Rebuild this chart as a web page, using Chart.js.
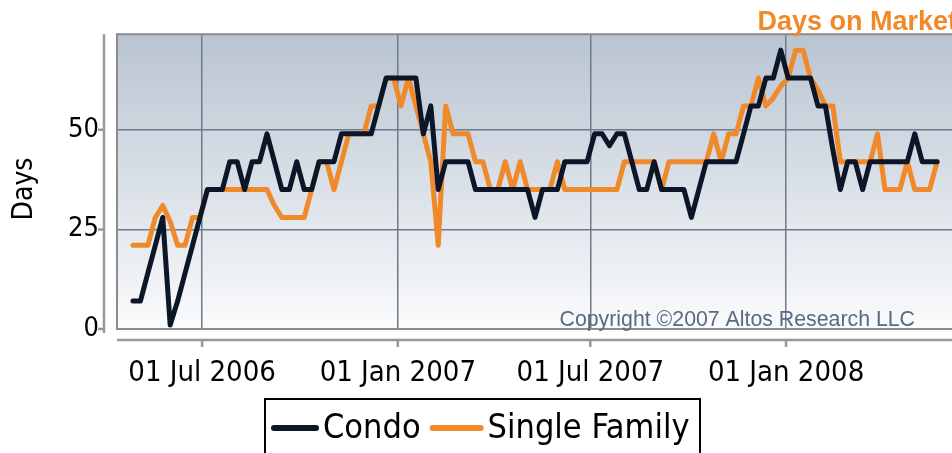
<!DOCTYPE html>
<html>
<head>
<meta charset="utf-8">
<script src="https://cdn.jsdelivr.net/npm/chart.js@4.4.0/dist/chart.umd.min.js"></script>
<style>
  html, body { margin: 0; padding: 0; background: #fff; overflow: hidden; }
</style>
</head>
<body>
<canvas id="myChart" width="952" height="453"></canvas>
<script>
// weekly data points
const weeks = [
  "2006-04-27", "2006-05-04", "2006-05-11", "2006-05-18", "2006-05-25", "2006-06-01", "2006-06-08", "2006-06-15",
  "2006-06-22", "2006-06-29", "2006-07-06", "2006-07-13", "2006-07-20", "2006-07-27", "2006-08-03", "2006-08-10",
  "2006-08-17", "2006-08-24", "2006-08-31", "2006-09-07", "2006-09-14", "2006-09-21", "2006-09-28", "2006-10-05",
  "2006-10-12", "2006-10-19", "2006-10-26", "2006-11-02", "2006-11-09", "2006-11-16", "2006-11-23", "2006-11-30",
  "2006-12-07", "2006-12-14", "2006-12-21", "2006-12-28", "2007-01-04", "2007-01-11", "2007-01-18", "2007-01-25",
  "2007-02-01", "2007-02-08", "2007-02-15", "2007-02-22", "2007-03-01", "2007-03-08", "2007-03-15", "2007-03-22",
  "2007-03-29", "2007-04-05", "2007-04-12", "2007-04-19", "2007-04-26", "2007-05-03", "2007-05-10", "2007-05-17",
  "2007-05-24", "2007-05-31", "2007-06-07", "2007-06-14", "2007-06-21", "2007-06-28", "2007-07-05", "2007-07-12",
  "2007-07-19", "2007-07-26", "2007-08-02", "2007-08-09", "2007-08-16", "2007-08-23", "2007-08-30", "2007-09-06",
  "2007-09-13", "2007-09-20", "2007-09-27", "2007-10-04", "2007-10-11", "2007-10-18", "2007-10-25", "2007-11-01",
  "2007-11-08", "2007-11-15", "2007-11-22", "2007-11-29", "2007-12-06", "2007-12-13", "2007-12-20", "2007-12-27",
  "2008-01-03", "2008-01-10", "2008-01-17", "2008-01-24", "2008-01-31", "2008-02-07", "2008-02-14", "2008-02-21",
  "2008-02-28", "2008-03-06", "2008-03-13", "2008-03-20", "2008-03-27", "2008-04-03", "2008-04-10", "2008-04-17",
  "2008-04-24", "2008-05-01", "2008-05-08", "2008-05-15", "2008-05-22"
];

const condo = [
  7, 7, 14, 21, 28, 1, 7, 14, 21, 28, 35, 35, 35, 42, 42, 35,
  42, 42, 49, 42, 35, 35, 42, 35, 35, 42, 42, 42, 49, 49, 49, 49,
  49, 56, 63, 63, 63, 63, 63, 49, 56, 35, 42, 42, 42, 42, 35, 35,
  35, 35, 35, 35, 35, 35, 28, 35, 35, 35, 42, 42, 42, 42, 49, 49,
  46, 49, 49, 42, 35, 35, 42, 35, 35, 35, 35, 28, 35, 42, 42, 42,
  42, 42, 49, 56, 56, 63, 63, 70, 63, 63, 63, 63, 56, 56, 45, 35,
  42, 42, 35, 42, 42, 42, 42, 42, 42, 49, 42, 42, 42
];

const singleFamily = [
  21, 21, 21, 28, 31, 27, 21, 21, 28, 28, 35, 35, 35, 35, 35, 35,
  35, 35, 35, 31, 28, 28, 28, 28, 35, 42, 42, 35, 42, 49, 49, 49,
  56, 56, 63, 63, 56, 63, 56, 49, 42, 21, 56, 49, 49, 49, 42, 42,
  35, 35, 42, 35, 42, 35, 35, 35, 35, 42, 35, 35, 35, 35, 35, 35,
  35, 35, 42, 42, 42, 42, 42, 35, 42, 42, 42, 42, 42, 42, 49, 42,
  49, 49, 56, 56, 63, 56, 58, 61, 63, 70, 70, 63, 60, 56, 56, 42,
  42, 42, 42, 42, 49, 35, 35, 35, 42, 35, 35, 35, 42
];

const tickDates = ["2006-07-01", "2007-01-01", "2007-07-01", "2008-01-01"];
const tickLabels = ["01 Jul 2006", "01 Jan 2007", "01 Jul 2007", "01 Jan 2008"];
const yTicks = [0, 25, 50];
const xStart = "2006-04-12";
const xEnd = "2008-06-05";

const toDay = (s) => Date.UTC(+s.slice(0, 4), +s.slice(5, 7) - 1, +s.slice(8, 10)) / 86400000;
const FONT = "'DejaVu Sans Condensed', 'DejaVu Sans', sans-serif";

// background, frame, separate axes, texts and legend box
const decor = {
  id: "decor",
  beforeDraw(chart) {
    const { ctx, chartArea: a } = chart;
    const g = ctx.createLinearGradient(0, a.top, 0, a.bottom);
    g.addColorStop(0, "#b9c4d1");
    g.addColorStop(1, "#fafbfc");
    ctx.save();
    ctx.fillStyle = g;
    ctx.fillRect(a.left, a.top, a.right - a.left, a.bottom - a.top);
    ctx.restore();
  },
  beforeDatasetsDraw(chart) {
    const { ctx, chartArea: a } = chart;
    ctx.save();
    ctx.strokeStyle = "#8c8c8c";
    ctx.lineWidth = 2;
    ctx.strokeRect(a.left, a.top, a.right - a.left + 4, a.bottom - a.top);
    ctx.fillStyle = "#5a6a80";
    ctx.font = "21.3px 'Liberation Sans', Arial, sans-serif";
    ctx.textAlign = "right";
    ctx.textBaseline = "alphabetic";
    ctx.fillText("Copyright \u00a92007 Altos Research LLC", 915, 326);
    ctx.restore();
  },
  afterDraw(chart) {
    const { ctx, chartArea: a } = chart;
    const xs = chart.scales.x, ys = chart.scales.y;
    ctx.save();
    ctx.strokeStyle = "#999";
    ctx.lineWidth = 2.5;
    // y axis line
    ctx.beginPath();
    ctx.moveTo(104, a.top);
    ctx.lineTo(104, a.bottom + 4);
    yTicks.forEach((v) => {
      const y = ys.getPixelForValue(v);
      ctx.moveTo(98, y);
      ctx.lineTo(104, y);
    });
    // x axis line
    ctx.moveTo(a.left, 340);
    ctx.lineTo(952, 340);
    tickDates.forEach((d) => {
      const x = xs.getPixelForValue(toDay(d));
      ctx.moveTo(x, 340);
      ctx.lineTo(x, 347);
    });
    ctx.stroke();

    // y title
    ctx.fillStyle = "#000";
    ctx.font = "28px " + FONT;
    ctx.translate(25, 189);
    ctx.rotate(-Math.PI / 2);
    ctx.textAlign = "center";
    ctx.textBaseline = "middle";
    ctx.fillText("Days", 0, 0);
    ctx.setTransform(1, 0, 0, 1, 0, 0);

    // title
    ctx.fillStyle = "#f08a28";
    ctx.font = "bold 27px 'Liberation Sans', Arial, sans-serif";
    ctx.textAlign = "right";
    ctx.textBaseline = "alphabetic";
    ctx.fillText("Days on Market", 957, 30);

    // legend
    ctx.strokeStyle = "#000";
    ctx.lineWidth = 2;
    ctx.strokeRect(265, 399, 435, 70);
    const items = chart.data.datasets;
    const lineLen = [42, 48];
    let lx = 274;
    ctx.font = "34px " + FONT;
    ctx.textAlign = "left";
    ctx.textBaseline = "middle";
    items.forEach((ds, i) => {
      ctx.strokeStyle = ds.borderColor;
      ctx.lineWidth = 6;
      ctx.lineCap = "round";
      ctx.beginPath();
      ctx.moveTo(lx, 428);
      ctx.lineTo(lx + lineLen[i], 428);
      ctx.stroke();
      ctx.fillStyle = "#000";
      ctx.fillText(ds.label, lx + lineLen[i] + 7, 429);
      lx += lineLen[i] + 7 + ctx.measureText(ds.label).width + 12;
    });
    ctx.restore();
  },
};

let chart1 = document.getElementById("myChart").getContext("2d");

const myChart = new Chart(chart1, {
  type: "line",
  data: {
    datasets: [
      {
        label: "Condo",
        data: weeks.map((w, i) => ({ x: toDay(w), y: condo[i] })),
        borderColor: "#0b1628",
        borderWidth: 5,
        pointRadius: 0,
        borderCapStyle: "round",
        borderJoinStyle: "round",
        tension: 0,
      },
      {
        label: "Single Family",
        data: weeks.map((w, i) => ({ x: toDay(w), y: singleFamily[i] })),
        borderColor: "#f0892a",
        borderWidth: 5,
        pointRadius: 0,
        borderCapStyle: "round",
        borderJoinStyle: "round",
        tension: 0,
      },
    ],
  },
  options: {
    responsive: false,
    animation: false,
    devicePixelRatio: 1,
    layout: { padding: { top: 33, left: 0, right: 0, bottom: 64 } },
    plugins: {
      legend: { display: false },
      tooltip: { enabled: false },
    },
    scales: {
      x: {
        type: "linear",
        min: toDay(xStart),
        max: toDay(xEnd),
        afterBuildTicks: (s) => {
          s.ticks = tickDates.map((d) => ({ value: toDay(d) }));
        },
        afterFit: (s) => {
          s.height = 60;
        },
        ticks: {
          callback: (v, i) => tickLabels[i],
          autoSkip: false,
          maxRotation: 0,
          padding: 27,
          color: "#000",
          font: { family: FONT, size: 29 },
        },
        grid: { color: "#6b7b8c", lineWidth: 1.5, drawTicks: false },
        border: { display: false },
      },
      y: {
        min: 0,
        max: 74,
        afterBuildTicks: (s) => {
          s.ticks = yTicks.map((v) => ({ value: v }));
        },
        afterFit: (s) => {
          s.width = 117;
        },
        ticks: {
          padding: 18,
          color: "#000",
          font: { family: FONT, size: 27 },
        },
        grid: {
          color: (c) => (c.tick && c.tick.value === 0 ? "rgba(0,0,0,0)" : "#6b7b8c"),
          lineWidth: 1.5,
          drawTicks: false,
        },
        border: { display: false },
      },
    },
  },
  plugins: [decor],
});
</script>
</body>
</html>
